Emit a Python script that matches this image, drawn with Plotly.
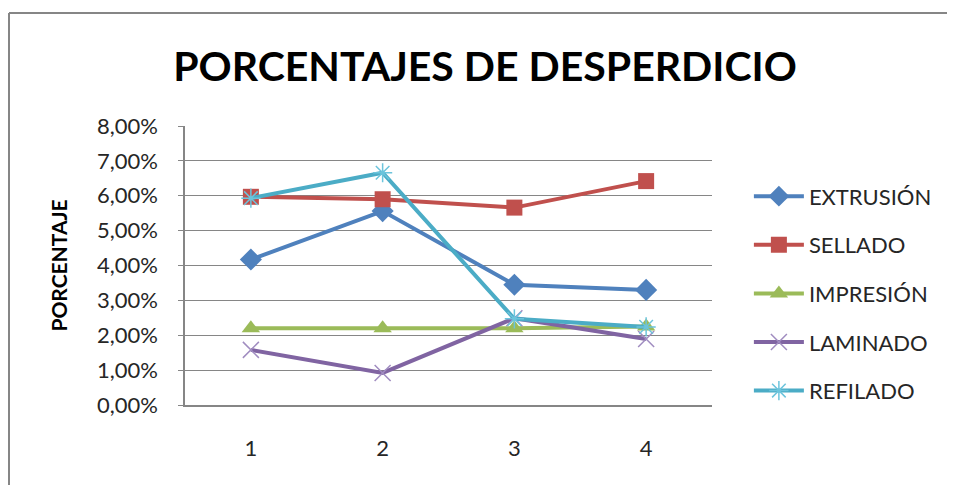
import plotly.graph_objects as go

categories = ["1", "2", "3", "4"]

extrusion = [4.17, 5.56, 3.45, 3.30]
sellado = [5.97, 5.90, 5.66, 6.42]
impresion = [2.20, 2.20, 2.20, 2.25]
laminado = [1.58, 0.92, 2.49, 1.89]
refilado = [5.93, 6.66, 2.47, 2.24]

y_ticks = [0, 1, 2, 3, 4, 5, 6, 7, 8]
y_tick_labels = ["0,00%", "1,00%", "2,00%", "3,00%", "4,00%",
                 "5,00%", "6,00%", "7,00%", "8,00%"]

FONT = "Lato"

series = [
    ("EXTRUSIÓN", extrusion, "#4F81BD", dict(symbol="diamond", size=17)),
    ("SELLADO", sellado, "#C0504D", dict(symbol="square", size=16)),
    ("IMPRESIÓN", impresion, "#9BBB59", dict(symbol="triangle-up", size=16)),
    ("LAMINADO", laminado, "#8064A2",
     dict(symbol="x-thin", size=16, line=dict(width=1.5, color="#A08CC0"))),
    ("REFILADO", refilado, "#4BACC6",
     dict(symbol="asterisk", size=16, line=dict(width=1.5, color="#6CC4DC"))),
]

fig = go.Figure()
for name, values, color, marker in series:
    fig.add_trace(
        go.Scatter(
            x=categories,
            y=values,
            name=name,
            legendgroup=name,
            mode="lines+markers",
            line=dict(color=color, width=4),
            marker=dict(color=color, **marker),
        )
    )

# page has an 8px body margin, so everything is placed 8px up/left
L, R, T, B = 177, 251, 118, 88
pw, ph = 955 - L - R, 485 - T - B
fx0 = (1 - L) / pw
fy1 = (ph + T - 5) / ph
fig.add_shape(type="line", xref="paper", yref="paper",
              x0=fx0, x1=2, y0=fy1, y1=fy1, line=dict(color="#868686", width=2))
fig.add_shape(type="line", xref="paper", yref="paper",
              x0=fx0, x1=fx0, y0=fy1, y1=-1, line=dict(color="#868686", width=2))

fig.update_layout(
    width=955,
    height=485,
    margin=dict(l=L, r=R, t=T, b=B),
    paper_bgcolor="white",
    plot_bgcolor="white",
    font=dict(family=FONT, size=22, color="#262626"),
    title=dict(
        text="<b>PORCENTAJES DE DESPERDICIO</b>",
        x=0.4995, xanchor="center", y=0.88, yanchor="middle",
        font=dict(family=FONT, size=41, color="black"),
    ),
    xaxis=dict(
        type="category",
        range=[-0.5, 3.5],
        showgrid=False,
        showline=True,
        linecolor="#868686",
        linewidth=1.5,
        ticks="",
        ticklabelstandoff=23,
        tickfont=dict(size=22),
    ),
    yaxis=dict(
        range=[0, 8],
        tickvals=y_ticks,
        ticktext=y_tick_labels,
        showgrid=True,
        gridcolor="#868686",
        gridwidth=1,
        showline=True,
        linecolor="#868686",
        linewidth=1.5,
        ticks="outside",
        ticklen=5,
        tickcolor="#868686",
        ticklabelstandoff=16,
        zeroline=False,
        title=dict(text="<b>PORCENTAJE</b>", font=dict(size=21, color="black"), standoff=24),
    ),
    legend=dict(
        x=1.07, xanchor="left", y=0.40, yanchor="middle",
        font=dict(size=22, color="#262626"),
        itemwidth=50,
        tracegroupgap=17,
        bgcolor="rgba(0,0,0,0)",
    ),
    showlegend=True,
)

fig.write_html("out.html")
